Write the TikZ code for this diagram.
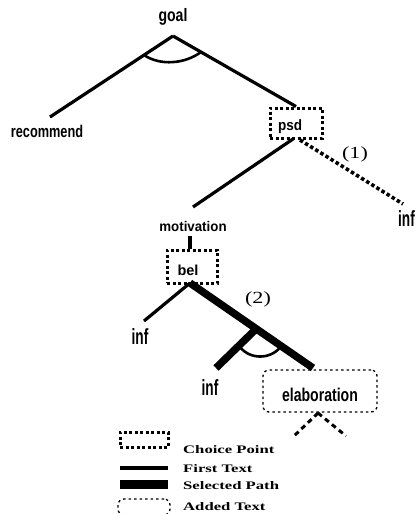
\documentclass[tikz,border=0pt]{standalone}
\usepackage{fontspec}
\setmainfont{Liberation Serif}
\setsansfont{Liberation Sans}
\usepackage{graphicx}
\newcommand\tl[3]{\scalebox{#2}[1]{\fontsize{#1}{#1}\selectfont\sffamily\bfseries #3}}
\newcommand\gl[1]{\scalebox{1.45}[1]{\fontsize{11.5}{11.5}\selectfont\rmfamily\bfseries #1}}
\newcommand\nm[1]{\scalebox{1.3}[1]{\fontsize{17}{17}\selectfont\rmfamily #1}}
\begin{document}
\begin{tikzpicture}[x=1pt,y=-1pt,
  firstline/.style={line width=3.2pt},
  selpath/.style={line width=7.5pt},
  choice/.style={draw, line width=3pt, dash pattern=on 3pt off 2.5pt, inner sep=0pt},
  added/.style={draw, line width=1.3pt, dash pattern=on 2.5pt off 3pt, rounded corners=6pt, inner sep=0pt},
  addline/.style={line width=3pt, dash pattern=on 5pt off 4pt},
  choiceline/.style={line width=3.6pt, dash pattern=on 3.5pt off 2.5pt},
  txt/.style={inner sep=0pt},
  andarc/.style={line width=2.6pt}]
\useasboundingbox (0,0) rectangle (415,514);
% tree labels
\node[txt] (goal) at (173,17) {\tl{18}{0.78}{goal}};
\coordinate (apex) at (173,36);
\node[txt] (recommend) at (47,131) {\tl{17}{0.75}{recommend}};
\coordinate (recend) at (50,117);
\node[choice, minimum width=52pt, minimum height=30pt] (psd) at (296,123) {};
\node[txt] (psdt) at (290,127) {\tl{15}{0.9}{psd}};
\coordinate (psdb) at (293,139);
\coordinate (psdr) at (300,140);
\node[txt] (motivation) at (193,226) {\tl{14}{0.95}{motivation}};
\coordinate (motend) at (193,207);
\node[txt, anchor=west] (infr) at (398,219) {\tl{22}{0.62}{inf}};
\coordinate (infrend) at (403,204);
\node[txt] (one) at (355,154) {\nm{(1)}};
% bel
\node[choice, minimum width=50pt, minimum height=33pt] (bel) at (192,266.5) {};
\node[txt] (belt) at (188,270) {\tl{14.5}{1.0}{bel}};
\coordinate (motb) at (190,236);
\coordinate (belb) at (190,283);
\node[txt] (infl) at (140,337) {\tl{22}{0.62}{inf}};
\coordinate (inflend) at (144,321);
\coordinate (selend) at (313,368);
\coordinate (brpt) at (256,329);
\coordinate (brend) at (216,368);
\node[txt] (infb) at (210,388) {\tl{22}{0.62}{inf}};
\node[txt] (two) at (258,299) {\nm{(2)}};
\node[added, minimum width=114pt, minimum height=42pt] (elab) at (320,391) {};
\node[txt] (elabt) at (320,395) {\tl{18.5}{0.76}{elaboration}};
\coordinate (eb) at (318,413);
\coordinate (ebl) at (294,436);
\coordinate (ebr) at (346,436);
% edges
\draw[firstline] (apex) -- (recend);
\draw[firstline] (apex) -- (psd.north);
\draw[andarc] (144,55) .. controls (160,66) and (185,64) .. (201,52);
\draw[firstline] (psdb) -- (motend);
\draw[choiceline] (psdr) -- (infrend);
\draw[firstline] (motb) -- (bel.north -| motb);
\draw[firstline] (belb) -- (inflend);
\draw[selpath] (belb) -- (selend);
\draw[selpath] (brpt) -- (brend);
\draw[andarc] (240,347) .. controls (250,360) and (272,360) .. (282,345);
\draw[addline] (eb) -- (ebl);
\draw[addline] (eb) -- (ebr);
% legend
\node[choice, minimum width=48pt, minimum height=15pt] (lcp) at (144,439.5) {};
\node[txt, anchor=west] (lcpt) at (183,450) {\gl{Choice Point}};
\coordinate (lfa) at (120,468);
\coordinate (lfb) at (168,468);
\draw[firstline] (lfa) -- (lfb);
\node[txt, anchor=west] (lft) at (183,469) {\gl{First Text}};
\node[fill, minimum width=48pt, minimum height=9pt, inner sep=0pt] (lsp) at (144,484.5) {};
\node[txt, anchor=west] (lspt) at (183,486) {\gl{Selected Path}};
\node[added, minimum width=52pt, minimum height=16pt] (lat) at (144,507) {};
\node[txt, anchor=west] (latt) at (183,507) {\gl{Added Text}};
\end{tikzpicture}
\end{document}
